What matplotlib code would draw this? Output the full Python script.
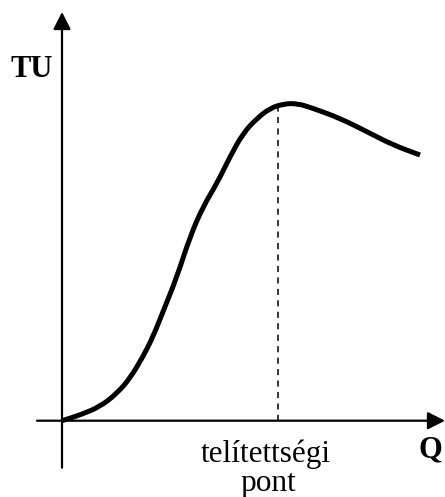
import matplotlib
matplotlib.use("Agg")
import matplotlib.pyplot as plt
from matplotlib.path import Path
from matplotlib.patches import PathPatch

# Curve (Q, TU) in arbitrary units, origin at axes crossing
q_vals = [0, 18, 38, 55, 68, 81, 91, 101, 115, 128, 141, 155, 168, 181, 195, 208,
          221, 235, 251, 278, 305, 331, 358]
tu_vals = [0, 5.7, 14, 27.4, 42.4, 64, 84, 109, 144, 184, 214, 237.4, 264, 287.4,
           302.4, 312.4, 316.7, 317.4, 312.4, 302.4, 289, 275.7, 265.7]
saturation_q = 216
saturation_tu = 314

y_label = "TU"
x_label = "Q"
point_label = ["telítettségi", "pont"]

fig = plt.figure(figsize=(4.45, 4.97), dpi=100)
ax = fig.add_axes([0, 0, 1, 1])
ax.set_xlim(-62, 383)
ax.set_ylim(-76.3, 420.7)
ax.axis("off")

# axes with arrows
arrow_kw = dict(arrowstyle="-|>,head_length=0.75,head_width=0.38", color="black",
                lw=1.6, shrinkA=0, shrinkB=0, mutation_scale=14)
ax.annotate("", xy=(0, 408.7), xytext=(0, -47), arrowprops=arrow_kw)
ax.annotate("", xy=(383, 0), xytext=(-25, 0), arrowprops=arrow_kw)

# curve: read points used as control points of a smooth quadratic Bezier path
pts = list(zip(q_vals, tu_vals))
verts = [pts[0]]
codes = [Path.MOVETO]
mid = lambda a, b: ((a[0] + b[0]) / 2, (a[1] + b[1]) / 2)
verts.append(mid(pts[0], pts[1]))
codes.append(Path.LINETO)
for i in range(1, len(pts) - 1):
    verts += [pts[i], mid(pts[i], pts[i + 1])]
    codes += [Path.CURVE3, Path.CURVE3]
verts.append(pts[-1])
codes.append(Path.LINETO)
ax.add_patch(PathPatch(Path(verts, codes), fill=False, edgecolor="black", lw=3.6,
                       capstyle="butt", joinstyle="round"))

# dashed line at saturation point
ax.plot([saturation_q, saturation_q], [0, saturation_tu], color="black", lw=1.1,
        linestyle=(0, (4, 3.5)))

serif = "Liberation Serif"
ax.text(-30.5, 343.7, y_label, fontsize=22, fontweight="bold", family=serif,
        ha="center", va="baseline")
ax.text(368, -36.3, x_label, fontsize=22, fontweight="bold", family=serif,
        ha="center", va="baseline")
ax.text(204, -41.3, point_label[0], fontsize=22.5, family=serif,
        ha="center", va="baseline")
ax.text(206, -70.3, point_label[1], fontsize=22.5, family=serif,
        ha="center", va="baseline")

fig.savefig("out.png", dpi=100)
